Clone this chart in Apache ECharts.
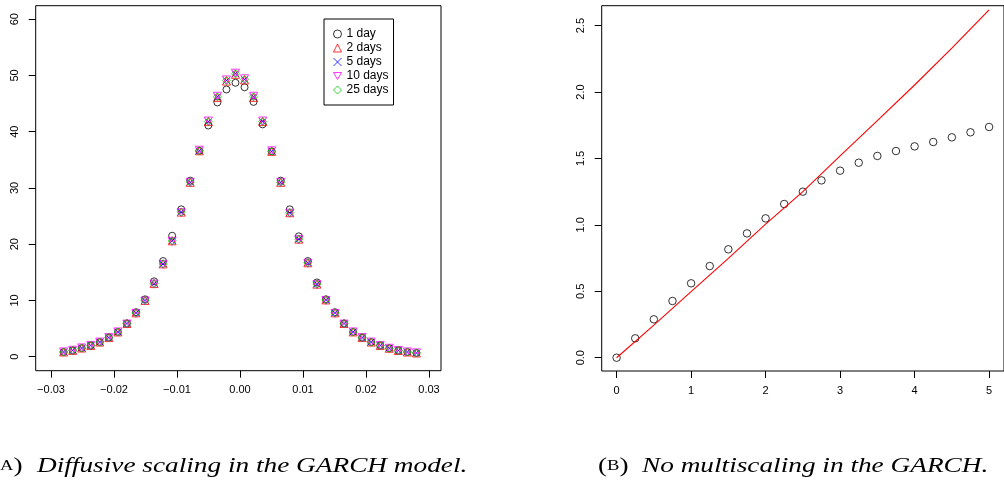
<!DOCTYPE html>
<html lang="en">
<head>
<meta charset="UTF-8">
<title>GARCH scaling</title>
<script src="https://cdn.jsdelivr.net/npm/echarts@6/dist/echarts.min.js"></script>
<style>
  html, body { margin: 0; padding: 0; background: #fff; overflow: hidden; }
  #chart { width: 1004px; height: 485px; }
</style>
</head>
<body>
<div id="chart"></div>
<script>
// (A) rescaled return densities, bin centres
var binCenters = [-0.02800, -0.02656, -0.02513, -0.02369, -0.02226, -0.02082, -0.01938, -0.01795,
    -0.01651, -0.01508, -0.01364, -0.01221, -0.01077, -0.00933, -0.00790, -0.00646, -0.00503,
    -0.00359, -0.00215, -0.00072, 0.00072, 0.00215, 0.00359, 0.00503, 0.00646, 0.00790, 0.00933,
    0.01077, 0.01221, 0.01364, 0.01508, 0.01651, 0.01795, 0.01938, 0.02082, 0.02226, 0.02369,
    0.02513, 0.02656, 0.02800];
var day1 = [0.83, 1.12, 1.54, 2.0, 2.6, 3.4, 4.4, 5.9, 7.9, 10.2, 13.4, 17.0, 21.5, 26.2, 31.3, 36.6,
    41.1, 45.2, 47.5, 48.7, 47.9, 45.3, 41.3, 36.5, 31.3, 26.2, 21.4, 17.0, 13.2, 10.2, 7.9, 5.9,
    4.4, 3.4, 2.6, 2.0, 1.5, 1.1, 0.83, 0.66];
var day2 = [0.83, 1.12, 1.54, 2.0, 2.6, 3.4, 4.4, 5.9, 7.8, 10.0, 13.0, 16.5, 20.6, 25.7, 31.0, 36.6,
    41.8, 46.1, 49.0, 50.2, 49.2, 46.1, 41.8, 36.5, 31.0, 25.6, 20.9, 16.7, 12.9, 10.1, 7.8, 5.9,
    4.4, 3.4, 2.6, 2.0, 1.5, 1.1, 0.83, 0.66];
var day5 = [0.83, 1.12, 1.54, 2.0, 2.6, 3.4, 4.4, 5.9, 7.8, 10.0, 13.0, 16.5, 20.6, 25.7, 31.0, 36.6,
    41.8, 46.2, 49.1, 50.3, 49.3, 46.2, 41.8, 36.5, 31.0, 25.6, 20.9, 16.7, 12.9, 10.1, 7.8, 5.9,
    4.4, 3.4, 2.6, 2.0, 1.5, 1.1, 0.83, 0.66];
var day10 = [0.85, 1.14, 1.56, 2.0, 2.6, 3.4, 4.4, 5.8, 7.7, 9.9, 12.9, 16.4, 20.5, 25.6, 31.0, 36.7,
    41.9, 46.3, 49.2, 50.4, 49.4, 46.3, 41.9, 36.6, 31.0, 25.5, 20.8, 16.6, 12.8, 10.0, 7.7, 5.8,
    4.4, 3.4, 2.6, 2.0, 1.5, 1.1, 0.85, 0.68];
var day25 = [0.83, 1.12, 1.54, 2.0, 2.6, 3.4, 4.4, 5.9, 7.8, 10.0, 13.0, 16.5, 20.6, 25.7, 31.0, 36.6,
    41.8, 46.2, 49.1, 50.3, 49.3, 46.2, 41.8, 36.5, 31.0, 25.6, 20.9, 16.7, 12.9, 10.1, 7.8, 5.9,
    4.4, 3.4, 2.6, 2.0, 1.5, 1.1, 0.83, 0.66];
var leftXTicks = [-0.03, -0.02, -0.01, 0, 0.01, 0.02, 0.03];
var leftYTicks = [0, 10, 20, 30, 40, 50, 60];

// (B) scaling exponents vs q, and the reference curve
var qValues = [0, 0.25, 0.5, 0.75, 1, 1.25, 1.5, 1.75, 2, 2.25, 2.5, 2.75, 3, 3.25, 3.5, 3.75, 4,
    4.25, 4.5, 4.75, 5];
var zetaQ = [0, 0.146, 0.289, 0.427, 0.560, 0.690, 0.816, 0.936, 1.049, 1.157, 1.250, 1.335, 1.408,
    1.468, 1.519, 1.556, 1.591, 1.624, 1.659, 1.697, 1.737];
var lineQ = [0, 0.5, 1, 1.5, 2, 2.5, 3, 3.5, 4, 4.5, 5];
var lineZeta = [0, 0.246, 0.497, 0.748, 1.006, 1.25, 1.519, 1.785, 2.053, 2.33, 2.618];
var rightXTicks = [0, 1, 2, 3, 4, 5];
var rightYTicks = [0, 0.5, 1, 1.5, 2, 2.5];

function zip(xs, ys) {
    var out = [];
    for (var i = 0; i < xs.length; i++) out.push([xs[i], ys[i]]);
    return out;
}

var tickFont = { fontFamily: "Liberation Sans", fontSize: 11, color: "#000" };

function makeAxis(ticks, fmt, min, max, rotate, margin, gridIndex) {
    return {
        type: "value",
        gridIndex: gridIndex,
        min: min,
        max: max,
        axisLine: { show: false, onZero: false },
        axisTick: { show: true, inside: false, length: 7, customValues: ticks,
            lineStyle: { color: "#000", width: 1 } },
        axisLabel: Object.assign({ customValues: ticks, formatter: fmt, rotate: rotate, margin: margin }, tickFont),
        splitLine: { show: false }
    };
}

function minusFmt(v) {
    return (v < 0 ? "\u2212" : "") + Math.abs(v).toFixed(2);
}

var hollow = function (c) {
    return { color: "transparent", borderColor: c, borderWidth: 1 };
};

// caption pieces: small-caps letter in brackets, then italic text
function caption(x, letter, textX, text) {
    return [
        {
            type: "text", x: x, y: 466, scaleX: 1.24,
            style: {
                text: "{p|(}{s|" + letter + "}{p|)}",
                verticalAlign: "middle",
                rich: {
                    p: { font: '22px "Liberation Serif"', fill: "#000" },
                    s: { font: '15px "Liberation Serif"', fill: "#000" }
                }
            }
        },
        {
            type: "text", x: textX, y: 466, scaleX: 1.24,
            style: { text: text, font: 'italic 22px "Liberation Serif"', fill: "#000", verticalAlign: "middle" }
        }
    ];
}

var chart = echarts.init(document.getElementById("chart"));
var option = {
    animation: false,
    backgroundColor: "#fff",
    grid: [
        { left: 35.7, top: 5.7, width: 405.3, height: 365, show: true, borderColor: "#000", borderWidth: 1 },
        { left: 601.7, top: 5.7, width: 409.7, height: 365.3, show: true, borderColor: "#000", borderWidth: 1 }
    ],
    xAxis: [
        makeAxis(leftXTicks, minusFmt, -0.03243, 0.0319, 0, 14, 0),
        makeAxis(rightXTicks, function (v) { return String(v); }, -0.2, 5.2, 0, 14, 1)
    ],
    yAxis: [
        makeAxis(leftYTicks, function (v) { return String(v); }, -2.49, 62.4, 90, 15, 0),
        makeAxis(rightYTicks, function (v) { return v.toFixed(1); }, -0.1, 2.65, 90, 15, 1)
    ],
    legend: {
        data: ["1 day", "2 days", "5 days", "10 days", "25 days"],
        orient: "vertical",
        left: 324,
        top: 19,
        padding: [8, 5, 8, 9],
        itemGap: 0,
        itemWidth: 8,
        itemHeight: 8,
        borderColor: "#000",
        borderWidth: 1,
        borderRadius: 0,
        selectedMode: false,
        itemStyle: { borderWidth: 1 },
        textStyle: { fontFamily: "Liberation Sans", fontSize: 12, lineHeight: 14, color: "#000" }
    },
    graphic: caption(-9, "A", 37, "Diffusive scaling in the GARCH model.")
        .concat(caption(598, "B", 642, "No multiscaling in the GARCH.")),
    series: [
        { name: "1 day", type: "scatter", xAxisIndex: 0, yAxisIndex: 0, data: zip(binCenters, day1),
            symbol: "circle", symbolSize: 7, itemStyle: hollow("#000000"), silent: true },
        { name: "2 days", type: "scatter", xAxisIndex: 0, yAxisIndex: 0, data: zip(binCenters, day2),
            symbol: "triangle", symbolSize: 8, itemStyle: hollow("#ff0000"), silent: true },
        { name: "5 days", type: "scatter", xAxisIndex: 0, yAxisIndex: 0, data: zip(binCenters, day5),
            symbol: "path://M0,0L10,10M10,0L0,10", symbolSize: 6, itemStyle: hollow("#0000ff"), silent: true },
        { name: "10 days", type: "scatter", xAxisIndex: 0, yAxisIndex: 0, data: zip(binCenters, day10),
            symbol: "path://M0,0L10,0L5,8.66Z", symbolSize: 8, itemStyle: hollow("#ff00ff"), silent: true },
        { name: "25 days", type: "scatter", xAxisIndex: 0, yAxisIndex: 0, data: zip(binCenters, day25),
            symbol: "diamond", symbolSize: 8, itemStyle: hollow("#00cd00"), silent: true },
        { name: "zeta", type: "scatter", xAxisIndex: 1, yAxisIndex: 1, data: zip(qValues, zetaQ),
            symbol: "circle", symbolSize: 7.5, itemStyle: hollow("#000000"), silent: true },
        { name: "fit", type: "line", xAxisIndex: 1, yAxisIndex: 1, data: zip(lineQ, lineZeta),
            symbol: "none", lineStyle: { color: "#ff0000", width: 1.1 }, silent: true }
    ]
};
chart.setOption(option);
</script>
</body>
</html>
